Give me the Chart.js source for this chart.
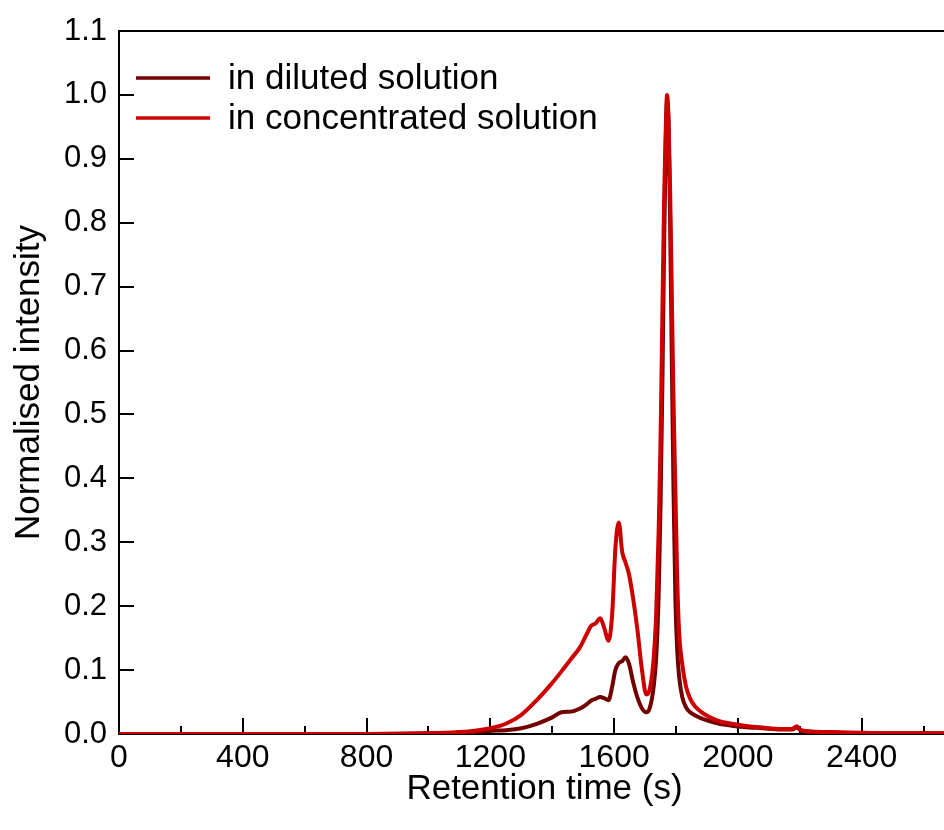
<!DOCTYPE html>
<html>
<head>
<meta charset="utf-8">
<script src="https://cdn.jsdelivr.net/npm/chart.js@4.4.0/dist/chart.umd.min.js"></script>
<style>
  html, body { margin: 0; padding: 0; background: #ffffff; overflow: hidden; }
  #wrap { width: 970px; height: 830px; position: relative; }
</style>
</head>
<body>
<div id="wrap"><canvas id="c"></canvas></div>
<script>
// ---- data ----
const retentionTime = [0, 200, 400, 600, 800, 1000, 1100, 1150, 1200, 1250, 1300, 1350, 1400, 1430, 1460, 1490, 1510, 1525, 1540, 1555, 1568, 1582, 1594, 1604, 1615, 1626, 1637, 1648, 1662, 1676, 1690, 1704, 1716, 1728, 1736, 1744, 1750, 1756, 1762, 1767, 1771, 1776, 1781, 1786, 1792, 1798, 1804, 1810, 1820, 1832, 1846, 1862, 1880, 1910, 1940, 1980, 2020, 2080, 2140, 2175, 2190, 2205, 2240, 2300, 2400, 2500, 2600, 2750];
const dilutedIntensity = [0, 0, 0, 0, 0, 0.001, 0.002, 0.003, 0.005, 0.006, 0.009, 0.016, 0.026, 0.034, 0.035, 0.040, 0.046, 0.052, 0.055, 0.058, 0.056, 0.053, 0.075, 0.100, 0.111, 0.114, 0.120, 0.110, 0.080, 0.056, 0.040, 0.034, 0.042, 0.075, 0.120, 0.220, 0.360, 0.550, 0.780, 0.930, 0.990, 0.950, 0.800, 0.600, 0.380, 0.210, 0.130, 0.090, 0.058, 0.042, 0.034, 0.029, 0.025, 0.020, 0.016, 0.013, 0.011, 0.009, 0.007, 0.007, 0.010, 0.005, 0.003, 0.002, 0.001, 0.001, 0.001, 0.001];
const concentratedIntensity = [0, 0, 0, 0, 0, 0.001, 0.003, 0.005, 0.009, 0.016, 0.030, 0.053, 0.080, 0.098, 0.117, 0.136, 0.155, 0.169, 0.173, 0.181, 0.166, 0.146, 0.190, 0.290, 0.331, 0.285, 0.268, 0.250, 0.210, 0.160, 0.100, 0.062, 0.072, 0.120, 0.190, 0.320, 0.460, 0.660, 0.850, 0.950, 1.000, 0.960, 0.850, 0.700, 0.520, 0.380, 0.240, 0.160, 0.110, 0.075, 0.055, 0.043, 0.035, 0.026, 0.020, 0.016, 0.013, 0.010, 0.008, 0.008, 0.012, 0.006, 0.004, 0.003, 0.002, 0.001, 0.001, 0.001];
const seriesLabels = ['in diluted solution', 'in concentrated solution'];
const xTickValues = [0, 400, 800, 1200, 1600, 2000, 2400];
const xMinorTickValues = [200, 600, 1000, 1400, 1800, 2200, 2600];
const yTickValues = [0, 0.1, 0.2, 0.3, 0.4, 0.5, 0.6, 0.7, 0.8, 0.9, 1.0, 1.1];
const xAxisTitle = 'Retention time (s)';
const yAxisTitle = 'Normalised intensity';

const FONT = '"Liberation Sans", Arial, Helvetica, sans-serif';

function pts(values) { return retentionTime.map((t, i) => ({ x: t, y: values[i] })); }

// inward tick marks, frame and in-plot legend
const framePlugin = {
  id: 'frame',
  beforeDatasetsDraw(chart) {
    const { ctx, chartArea: a, scales: { x, y } } = chart;
    ctx.save();
    ctx.strokeStyle = '#000';
    ctx.lineWidth = 2;
    ctx.beginPath();
    ctx.moveTo(a.left, a.top); ctx.lineTo(a.right, a.top);
    ctx.moveTo(a.right, a.top); ctx.lineTo(a.right, a.bottom);
    xTickValues.forEach(v => {
      const px = Math.round(x.getPixelForValue(v));
      ctx.moveTo(px, a.bottom); ctx.lineTo(px, a.bottom - 16);
    });
    xMinorTickValues.forEach(v => {
      const px = Math.round(x.getPixelForValue(v));
      ctx.moveTo(px, a.bottom); ctx.lineTo(px, a.bottom - 8);
    });
    yTickValues.forEach(v => {
      const py = Math.round(y.getPixelForValue(v));
      ctx.moveTo(a.left, py); ctx.lineTo(a.left + 15, py);
    });
    ctx.stroke();
    ctx.restore();
  },
  afterDraw(chart) {
    const { ctx, chartArea: a } = chart;
    ctx.save();
    ctx.font = '35px ' + FONT;
    ctx.textBaseline = 'middle';
    ctx.textAlign = 'left';
    chart.data.datasets.forEach((ds, i) => {
      const yy = a.top + 47 + i * 40;
      ctx.strokeStyle = ds.borderColor;
      ctx.lineWidth = 3.5;
      ctx.beginPath();
      ctx.moveTo(a.left + 17, yy); ctx.lineTo(a.left + 91, yy);
      ctx.stroke();
      ctx.fillStyle = '#000';
      ctx.fillText(ds.label, a.left + 109, yy + 1);
    });
    ctx.restore();
  }
};

new Chart(document.getElementById('c'), {
  type: 'line',
  data: {
    datasets: [
      { label: seriesLabels[0], data: pts(dilutedIntensity), borderColor: '#720000', borderWidth: 4, pointRadius: 0, cubicInterpolationMode: 'monotone', fill: false, order: 1 },
      { label: seriesLabels[1], data: pts(concentratedIntensity), borderColor: '#cc0000', borderWidth: 4, pointRadius: 0, cubicInterpolationMode: 'monotone', fill: false, order: 0 }
    ]
  },
  options: {
    responsive: true,
    maintainAspectRatio: false,
    animation: false,
    events: [],
    layout: { padding: { top: 31, right: 0, left: 0, bottom: 0 } },
    plugins: { legend: { display: false }, tooltip: { enabled: false } },
    scales: {
      x: {
        type: 'linear', min: 0, max: 2750,
        grid: { display: false, drawTicks: false },
        border: { display: true, color: '#000', width: 2 },
        afterBuildTicks(s) { s.ticks = xTickValues.map(v => ({ value: v })); },
        ticks: { color: '#000', padding: 5, maxRotation: 0, autoSkip: false,
          font: { family: FONT, size: 32 }, callback: v => String(v) },
        title: { display: true, text: xAxisTitle, color: '#000', font: { family: FONT, size: 35 }, padding: { top: 20, bottom: 20 } },
        afterFit(s) { s.height = 96; }
      },
      y: {
        type: 'linear', min: 0, max: 1.1,
        grid: { display: false, drawTicks: false },
        border: { display: true, color: '#000', width: 2 },
        afterBuildTicks(s) { s.ticks = yTickValues.map(v => ({ value: v })); },
        ticks: { color: '#000', padding: 12, font: { family: FONT, size: 31 }, autoSkip: false,
          callback: v => Number(v).toFixed(1) },
        title: { display: true, text: yAxisTitle, color: '#000', font: { family: FONT, size: 35 }, padding: { top: 8, bottom: 8 } },
        afterFit(s) { s.width = 119; }
      }
    }
  },
  plugins: [framePlugin]
});
</script>
</body>
</html>
